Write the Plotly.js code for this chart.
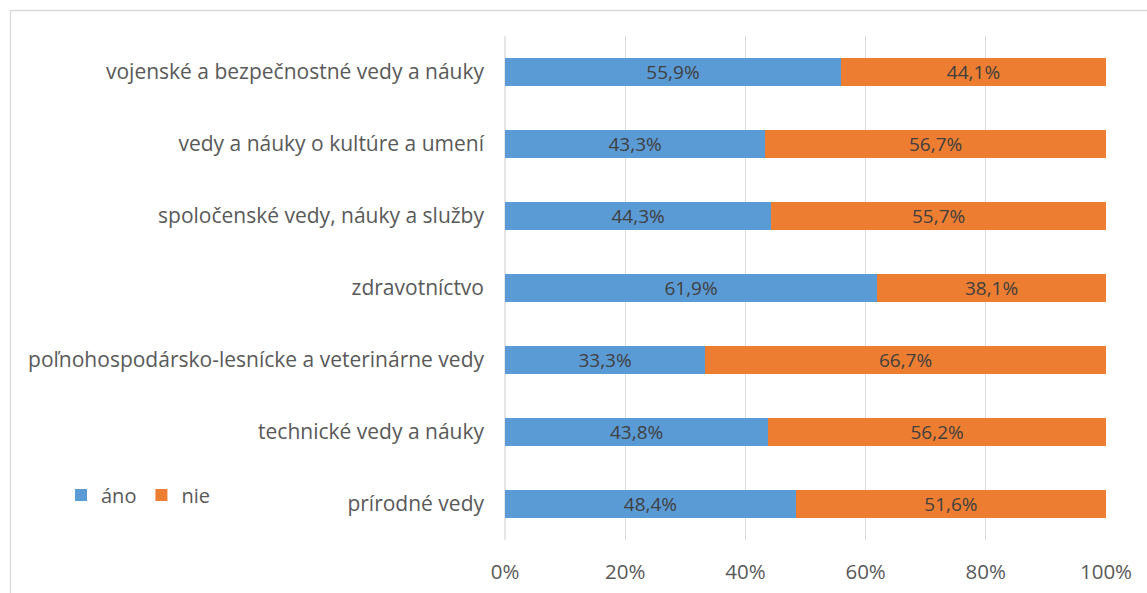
<!DOCTYPE html>
<html>
<head>
<meta charset="utf-8">
<script src="https://cdn.plot.ly/plotly-3.0.1.min.js"></script>
<style>html,body{margin:0;padding:0;background:#fff;}#chart{width:1147px;height:593px;}</style>
</head>
<body>
<div id="chart"></div>
<script>
const categories = [
  "vojenské a bezpečnostné vedy a náuky",
  "vedy a náuky o kultúre a umení",
  "spoločenské vedy, náuky a služby",
  "zdravotníctvo",
  "poľnohospodársko-lesnícke a veterinárne vedy",
  "technické vedy a náuky",
  "prírodné vedy"
];
const ano = [55.9, 43.3, 44.3, 61.9, 33.3, 43.8, 48.4];
const nie = [44.1, 56.7, 55.7, 38.1, 66.7, 56.2, 51.6];
const seriesNames = ["áno", "nie"];
const tickVals = [0, 20, 40, 60, 80, 100];
const tickText = ["0%", "20%", "40%", "60%", "80%", "100%"];

const fmt = v => v.toFixed(1).replace('.', ',') + '%';
const FONT = "Open Sans, Noto Sans, sans-serif";

const W = 1147, H = 593, L = 505, R = 41, T = 36, B = 53;
const pw = W - L - R, ph = H - T - B;
const px = x => (x - L) / pw;
const py = y => (H - B - y) / ph;

const mk = (name, vals, color) => ({
  type: 'bar', orientation: 'h', name: name,
  y: categories, x: vals,
  marker: {color: color},
  text: vals.map(fmt), textposition: 'inside', insidetextanchor: 'middle',
  constraintext: 'none',
  textfont: {family: FONT, size: 19, color: '#404040'},
  hoverinfo: 'x+y'
});

const data = [
  mk(seriesNames[0], ano, '#5B9BD5'),
  mk(seriesNames[1], nie, '#ED7D31')
];

const layout = {
  width: W, height: H,
  margin: {l: L, r: R, t: T, b: B, pad: 0},
  paper_bgcolor: '#fff', plot_bgcolor: '#fff',
  barmode: 'stack', bargap: 0.61,
  font: {family: FONT, color: '#595959', size: 19},
  xaxis: {
    range: [0, 100], tickvals: tickVals, ticktext: tickText,
    showgrid: true, gridcolor: '#d9d9d9', gridwidth: 1.3,
    zeroline: false, showline: false, ticks: '',
    ticklabelstandoff: 17, tickfont: {size: 20.5, color: '#595959'},
    fixedrange: true
  },
  yaxis: {
    autorange: 'reversed', categoryorder: 'array', categoryarray: categories,
    ticks: '', showline: false, showgrid: false,
    ticklabelstandoff: 20, tickfont: {size: 21, color: '#595959'},
    fixedrange: true
  },
  showlegend: true,
  legend: {
    orientation: 'h', x: px(61), xanchor: 'left', y: py(495), yanchor: 'middle',
    font: {size: 20, color: '#595959'}, bgcolor: 'rgba(0,0,0,0)', traceorder: 'normal',
    itemwidth: 30
  },
  shapes: [
    {type: 'rect', xref: 'paper', yref: 'paper', x0: px(10.5), x1: px(1160), y0: py(610), y1: py(10.5),
     line: {color: '#d9d9d9', width: 1.3}, fillcolor: 'rgba(0,0,0,0)', layer: 'below'},
    {type: 'line', xref: 'paper', yref: 'paper', x0: 0, x1: 0, y0: 0, y1: 1,
     line: {color: '#d9d9d9', width: 1.3}, layer: 'below'}
  ]
};

Plotly.newPlot('chart', data, layout, {displayModeBar: false, staticPlot: true});
</script>
</body>
</html>
